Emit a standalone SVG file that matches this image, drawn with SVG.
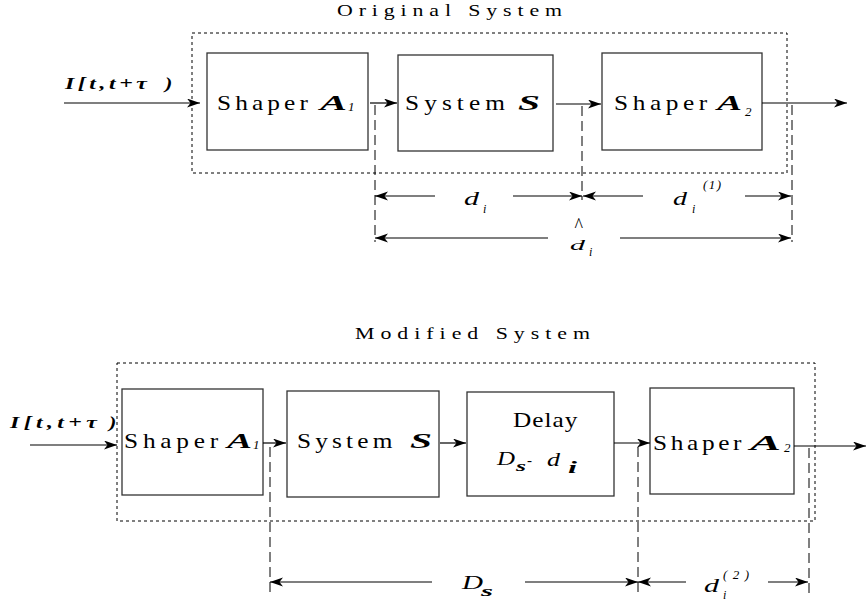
<svg xmlns="http://www.w3.org/2000/svg" width="867" height="607" viewBox="0 0 867 607">
<style>
  .bg{fill:#fff}
  .box{fill:#fff;stroke:#333;stroke-width:1.3}
  .frame{fill:none;stroke:#000;stroke-width:1;stroke-dasharray:3,3}
  .dash{fill:none;stroke:#000;stroke-width:1;stroke-dasharray:10,5}
  .ln{fill:none;stroke:#000;stroke-width:1.2;marker-end:url(#ah)}
  text{font-family:"Liberation Serif","Times New Roman",serif;fill:#000}
  .r{font-size:22px}
  .ttl{font-size:17.5px}
  .bi{font-weight:bold;font-style:italic}
  .it{font-style:italic}
</style>
<defs>
  <marker id="ah" markerUnits="userSpaceOnUse" markerWidth="14" markerHeight="10" refX="13" refY="4.5" orient="auto">
    <path d="M0,0 L13,4.5 L0,9 L3.5,4.5 Z" fill="#000"/>
  </marker>
</defs>
<rect class="bg" x="0" y="0" width="867" height="607"/>

<!-- Original System -->
<g id="title-original">
  <text class="ttl" transform="matrix(1.25,0,0,1,337,16)" textLength="180">Original System</text>
</g>
<g id="frame-original">
  <rect class="frame" x="192" y="33" width="595" height="140"/>
</g>
<g id="input-label-top">
  <text class="bi" font-size="17" transform="matrix(1.4,0,0,1,65,89)" textLength="58.5">I[t,t+τ</text>
  <text class="bi" font-size="17" transform="matrix(1.3,0,0,1,165,89)">)</text>
</g>
<g id="shaper-a1-top">
  <rect class="box" x="207" y="53" width="161" height="97"/>
  <text class="r" transform="matrix(1.15,0,0,1,217,110)" textLength="79">Shaper</text>
  <text class="r bi" x="320" y="110" textLength="27" lengthAdjust="spacingAndGlyphs">A</text>
  <text class="it" font-size="13" x="348" y="111">1</text>
</g>
<g id="system-s-top">
  <rect class="box" x="398" y="55" width="155" height="96"/>
  <text class="r" transform="matrix(1.15,0,0,1,405,110)" textLength="87">System</text>
  <text class="r bi" x="518" y="110" textLength="22" lengthAdjust="spacingAndGlyphs">S</text>
</g>
<g id="shaper-a2-top">
  <rect class="box" x="602" y="53" width="160" height="97"/>
  <text class="r" transform="matrix(1.15,0,0,1,614,110)" textLength="81">Shaper</text>
  <text class="r bi" x="717" y="110" textLength="25" lengthAdjust="spacingAndGlyphs">A</text>
  <text class="it" font-size="13" x="745" y="116">2</text>
</g>
<g id="dim-labels-top">
  <text class="it" font-size="19" x="464" y="205" textLength="15" lengthAdjust="spacingAndGlyphs">d</text>
  <text class="it" font-size="12" x="483" y="213">i</text>
  <text class="it" font-size="19" x="673" y="205" textLength="14" lengthAdjust="spacingAndGlyphs">d</text>
  <text class="it" font-size="12" x="692" y="213">i</text>
  <text class="it" font-size="13" x="703" y="189" textLength="18">(1)</text>
  <text font-size="20" x="574.5" y="231.5" textLength="8.5" lengthAdjust="spacingAndGlyphs">^</text>
  <text class="it" font-size="15.5" x="570" y="250" textLength="15" lengthAdjust="spacingAndGlyphs">d</text>
  <text class="it" font-size="12" x="589" y="256">i</text>
</g>

<!-- Modified System -->
<g id="title-modified">
  <text class="ttl" transform="matrix(1.25,0,0,1,355,339)" textLength="188">Modified System</text>
</g>
<g id="frame-modified">
  <rect class="frame" x="117" y="363" width="698" height="158"/>
</g>
<g id="input-label-bottom">
  <text class="bi" font-size="17" transform="matrix(1.4,0,0,1,10,428)" textLength="62">I[t,t+τ</text>
  <text class="bi" font-size="17" transform="matrix(1.3,0,0,1,109,428)">)</text>
</g>
<g id="shaper-a1-bottom">
  <rect class="box" x="122" y="389" width="141" height="106"/>
  <text class="r" transform="matrix(1.15,0,0,1,124,448)" textLength="82">Shaper</text>
  <text class="r bi" x="227" y="448" textLength="25" lengthAdjust="spacingAndGlyphs">A</text>
  <text class="it" font-size="13" x="253" y="449">1</text>
</g>
<g id="system-s-bottom">
  <rect class="box" x="287" y="391" width="152" height="106"/>
  <text class="r" transform="matrix(1.15,0,0,1,297,448)" textLength="83">System</text>
  <text class="r bi" x="410" y="448" textLength="22" lengthAdjust="spacingAndGlyphs">S</text>
</g>
<g id="delay">
  <rect class="box" x="467" y="392" width="147" height="104"/>
  <text class="r" transform="matrix(1.15,0,0,1,513,427)" textLength="56">Delay</text>
  <text class="it" font-size="19" x="497" y="465" textLength="18" lengthAdjust="spacingAndGlyphs">D</text>
  <text class="bi" font-size="15" x="516" y="471" textLength="10" lengthAdjust="spacingAndGlyphs">s</text>
  <text font-size="15" x="527" y="465">-</text>
  <text class="it" font-size="19" x="547" y="466" textLength="13" lengthAdjust="spacingAndGlyphs">d</text>
  <text class="bi" font-size="17" x="568" y="473" textLength="9" lengthAdjust="spacingAndGlyphs">i</text>
</g>
<g id="shaper-a2-bottom">
  <rect class="box" x="650" y="388" width="144" height="106"/>
  <text class="r" transform="matrix(1.15,0,0,1,653,450)" textLength="77">Shaper</text>
  <text class="r bi" x="750" y="450" textLength="31" lengthAdjust="spacingAndGlyphs">A</text>
  <text class="it" font-size="13" x="784" y="452">2</text>
</g>
<g id="dim-labels-bottom">
  <text class="it" font-size="19" x="462" y="589" textLength="21" lengthAdjust="spacingAndGlyphs">D</text>
  <text class="bi" font-size="15" x="481" y="596" textLength="12" lengthAdjust="spacingAndGlyphs">s</text>
  <text class="it" font-size="19" x="704" y="592" textLength="15" lengthAdjust="spacingAndGlyphs">d</text>
  <text class="it" font-size="12" x="723" y="599">i</text>
  <text class="it" font-size="13" x="723" y="579" textLength="26">(2)</text>
</g>

<g id="connectors">
  <!-- top flow -->
  <line class="ln" x1="64" y1="103" x2="200" y2="103"/>
  <line class="ln" x1="370" y1="103" x2="397" y2="103"/>
  <line class="ln" x1="556" y1="104" x2="601" y2="104"/>
  <line class="ln" x1="762" y1="103" x2="847" y2="103"/>
  <!-- top extension lines -->
  <line class="dash" x1="375" y1="105" x2="375" y2="242"/>
  <line class="dash" x1="582" y1="106" x2="582" y2="200"/>
  <line class="dash" x1="792" y1="105" x2="792" y2="242"/>
  <!-- top dimensions -->
  <line class="ln" x1="435" y1="196" x2="375" y2="196"/>
  <line class="ln" x1="513" y1="196" x2="582" y2="196"/>
  <line class="ln" x1="643" y1="196" x2="583" y2="196"/>
  <line class="ln" x1="745" y1="196" x2="791" y2="196"/>
  <line class="ln" x1="548" y1="238" x2="375" y2="238"/>
  <line class="ln" x1="620" y1="238" x2="791" y2="238"/>
  <!-- bottom flow -->
  <line class="ln" x1="30" y1="445" x2="117" y2="445"/>
  <line class="ln" x1="263" y1="443" x2="286" y2="443"/>
  <line class="ln" x1="440" y1="443" x2="466" y2="443"/>
  <line class="ln" x1="614" y1="443" x2="650" y2="443"/>
  <line class="ln" x1="794" y1="446" x2="866" y2="446"/>
  <!-- bottom extension lines -->
  <line class="dash" x1="270" y1="447" x2="270" y2="597"/>
  <line class="dash" x1="638" y1="447" x2="638" y2="597"/>
  <line class="dash" x1="809" y1="448" x2="809" y2="597"/>
  <!-- bottom dimensions -->
  <line class="ln" x1="432" y1="582" x2="270" y2="582"/>
  <line class="ln" x1="525" y1="582" x2="638" y2="582"/>
  <line class="ln" x1="686" y1="582" x2="638" y2="582"/>
  <line class="ln" x1="768" y1="582" x2="808" y2="582"/>
</g>
</svg>
